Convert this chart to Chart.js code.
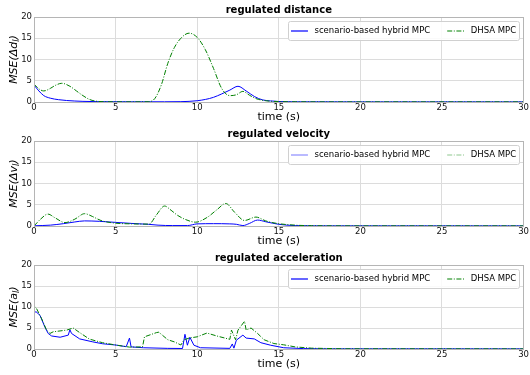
<!DOCTYPE html>
<html>
<head>
<meta charset="utf-8">
<script src="https://cdn.jsdelivr.net/npm/chart.js@4.4.1/dist/chart.umd.min.js"></script>
<style>
  body { margin: 0; background: #fff; }
  #wrap { position: relative; width: 530px; height: 375px; }
  #wrap canvas { position: absolute; left: 0; }
</style>
</head>
<body>
<div id="wrap">
  <canvas id="chart-dist" width="530" height="124" style="top:0px"></canvas>
  <canvas id="chart-vel" width="530" height="124" style="top:124px"></canvas>
  <canvas id="chart-acc" width="530" height="127" style="top:248px"></canvas>
</div>
<script>
// series labels
const seriesNames = ['scenario-based hybrid MPC', 'DHSA MPC'];
const xTicks = [0, 5, 10, 15, 20, 25, 30];
const yTicks = [0, 5, 10, 15, 20];

// regulated distance
const distHybridT = [0, 0.3, 0.6, 1, 1.5, 2, 3, 4, 6, 8, 9, 9.5, 10, 10.5, 11, 11.5, 12, 12.5, 13, 13.5, 14, 14.5, 15, 16, 20, 30];
const distHybrid  = [4.0, 2.6, 1.5, 0.9, 0.55, 0.35, 0.15, 0.08, 0.05, 0.05, 0.08, 0.15, 0.3, 0.6, 1.1, 1.9, 2.8, 3.7, 2.6, 1.3, 0.5, 0.25, 0.12, 0.05, 0.03, 0.03];
const distDhsaT = [0, 0.3, 0.6, 1, 1.3, 1.7, 2.2, 2.6, 3, 3.4, 3.8, 4.5, 6, 7, 7.4, 7.8, 8.2, 8.6, 9, 9.5, 10, 10.5, 11, 11.5, 12, 12.4, 12.8, 13.2, 13.6, 14.2, 15, 16, 20, 30];
const distDhsa  = [4.2, 3.1, 2.6, 3.2, 3.9, 4.4, 3.7, 2.6, 1.5, 0.6, 0.2, 0.06, 0.04, 0.06, 0.8, 4.0, 9.1, 12.8, 15.0, 16.2, 15.2, 12.3, 7.9, 3.2, 1.5, 1.7, 2.5, 1.6, 0.8, 0.3, 0.1, 0.05, 0.03, 0.03];

// regulated velocity
const velHybridT = [0, 1, 1.8, 2.5, 3.1, 4, 5, 6, 7, 7.6, 8.5, 9.4, 10, 11, 12, 12.4, 12.8, 13.2, 13.7, 14.2, 15, 16, 18, 30];
const velHybrid  = [0.05, 0.2, 0.55, 0.95, 1.2, 1.1, 0.85, 0.6, 0.4, 0.2, 0.1, 0.1, 0.5, 0.55, 0.5, 0.4, 0.1, 0.6, 1.4, 1.0, 0.4, 0.1, 0.04, 0.03];
const velDhsaT = [0, 0.4, 0.85, 1.3, 1.9, 2.5, 3.1, 3.6, 4.1, 4.9, 6, 7.05, 7.5, 8.0, 8.4, 8.8, 9.3, 9.9, 10.6, 11.2, 11.75, 12.3, 12.9, 13.6, 14.2, 14.9, 16, 17, 20, 30];
const velDhsa  = [0, 1.6, 2.8, 1.9, 0.8, 1.6, 2.9, 2.2, 1.3, 0.7, 0.5, 0.45, 2.6, 4.7, 3.7, 2.5, 1.5, 0.9, 2.0, 3.8, 5.3, 3.2, 1.3, 2.1, 1.2, 0.6, 0.2, 0.08, 0.03, 0.03];

// regulated acceleration
const accHybridT = [0, 0.02, 0.12, 0.37, 0.67, 0.87, 1.08, 1.6, 2.1, 2.2, 2.3, 2.8, 3.6, 4.2, 5.0, 5.65, 5.85, 5.95, 6.7, 8.2, 9.1, 9.25, 9.4, 9.55, 9.8, 10.2, 12.0, 12.15, 12.25, 12.4, 12.8, 13.0, 13.5, 13.9, 14.5, 15.3, 16.5, 18, 30];
const accHybrid  = [0, 8.6, 8.9, 8.0, 5.2, 3.7, 3.1, 2.8, 3.3, 4.6, 3.7, 2.4, 1.7, 1.25, 0.95, 0.55, 2.6, 0.5, 0.3, 0.15, 0.12, 3.5, 0.9, 2.8, 0.9, 0.3, 0.15, 1.2, 0.2, 2.1, 3.3, 2.6, 2.4, 1.5, 0.9, 0.3, 0.1, 0.04, 0.03];
const accDhsaT = [0, 0.02, 0.16, 0.47, 0.77, 0.98, 1.18, 2.0, 2.4, 2.8, 3.4, 4.2, 5.0, 5.85, 6.65, 6.77, 7.5, 7.65, 8.2, 8.6, 9.0, 9.2, 9.5, 10.0, 10.6, 11.2, 12.0, 12.1, 12.35, 12.5, 12.9, 13.0, 13.3, 13.7, 14.1, 14.7, 15.3, 16, 17, 19, 30];
const accDhsa  = [0, 10.2, 9.6, 7.2, 4.5, 3.7, 4.1, 4.5, 5.0, 3.9, 2.35, 1.5, 0.95, 0.45, 0.5, 2.9, 3.9, 4.0, 2.2, 1.7, 0.95, 2.2, 2.6, 2.9, 3.8, 3.1, 2.3, 4.5, 2.2, 4.5, 6.6, 4.5, 5.0, 3.7, 2.2, 1.3, 1.0, 0.5, 0.2, 0.05, 0.03];

const FONT = '"DejaVu Sans", sans-serif';

function toPoints(ts, ys) {
    return ts.map((t, i) => ({ x: t, y: ys[i] }));
}

// box around the plot area
const frameBox = {
    id: 'frameBox',
    afterDatasetsDraw(chart) {
        const { ctx, chartArea: a } = chart;
        ctx.save();
        ctx.strokeStyle = '#b5b5b5';
        ctx.lineWidth = 1;
        ctx.strokeRect(Math.round(a.left) + 0.5, Math.round(a.top) + 0.5,
            Math.round(a.right - a.left) - 1, Math.round(a.bottom - a.top));
        ctx.restore();
    }
};

// y label with a subscript: MSE(Δd_l)
const yLabelSub = {
    id: 'yLabelSub',
    afterDraw(chart, args, opts) {
        const { ctx, chartArea } = chart;
        const parts = [
            { text: opts.main, size: 11, dy: 0 },
            { text: opts.sub, size: 8, dy: 2.5 },
            { text: ')', size: 11, dy: 0 }
        ];
        ctx.save();
        let total = 0;
        parts.forEach(p => {
            ctx.font = 'italic ' + p.size + 'px ' + FONT;
            p.w = ctx.measureText(p.text).width;
            total += p.w;
        });
        ctx.translate(opts.x, (chartArea.top + chartArea.bottom) / 2);
        ctx.rotate(-Math.PI / 2);
        ctx.fillStyle = '#000';
        ctx.textBaseline = 'middle';
        let x = -total / 2;
        parts.forEach(p => {
            ctx.font = 'italic ' + p.size + 'px ' + FONT;
            ctx.fillText(p.text, x, p.dy);
            x += p.w;
        });
        ctx.restore();
    }
};

// matplotlib style legend inside the top right corner
const insideLegend = {
    id: 'insideLegend',
    afterDraw(chart) {
        const { ctx, chartArea } = chart;
        const sets = chart.data.datasets;
        ctx.save();
        ctx.font = '8.5px ' + FONT;
        const sample = 17, gapIn = 6.5, gapBetween = 17, padL = 2.5, padR = 3.5, h = 19;
        let w = padL + padR;
        sets.forEach((ds, i) => {
            w += sample + gapIn + ctx.measureText(ds.label).width + (i ? gapBetween : 0);
        });
        const x0 = chartArea.right - 4 - w;
        const y0 = chartArea.top + 4;
        ctx.fillStyle = 'rgba(255,255,255,0.85)';
        ctx.strokeStyle = '#d0d0d0';
        ctx.lineWidth = 1;
        ctx.beginPath();
        ctx.roundRect(Math.round(x0) + 0.5, Math.round(y0) + 0.5, Math.round(w), h, 2);
        ctx.fill();
        ctx.stroke();

        let x = x0 + padL;
        const cy = y0 + h / 2 + 0.5;
        sets.forEach((ds, i) => {
            if (i) x += gapBetween;
            ctx.strokeStyle = ds.legendColor || ds.borderColor;
            ctx.lineWidth = 1.2;
            ctx.setLineDash(ds.borderDash || []);
            ctx.beginPath();
            ctx.moveTo(x, cy);
            ctx.lineTo(x + sample, cy);
            ctx.stroke();
            ctx.setLineDash([]);
            x += sample + gapIn;
            ctx.fillStyle = '#000';
            ctx.textBaseline = 'middle';
            ctx.fillText(ds.label, x, cy);
            x += ctx.measureText(ds.label).width;
        });
        ctx.restore();
    }
};

function createChart(id, title, yMain, ySub, hybrid, dhsa, smooth, bottomPad, legendAlpha) {
    const curve = smooth ? { cubicInterpolationMode: 'monotone' } : { tension: 0 };
    new Chart(document.getElementById(id), {
        type: 'line',
        data: {
            datasets: [{
                label: seriesNames[0],
                data: hybrid,
                borderColor: '#0000ff',
                legendColor: legendAlpha ? 'rgba(0,0,255,0.45)' : '#0000ff',
                borderWidth: 1,
                pointRadius: 0,
                order: 2,
                ...curve
            }, {
                label: seriesNames[1],
                data: dhsa,
                borderColor: '#008000',
                legendColor: legendAlpha ? 'rgba(0,128,0,0.45)' : '#008000',
                borderWidth: 1,
                borderDash: [5, 1.6, 1, 1.6],
                pointRadius: 0,
                order: 1,
                ...curve
            }]
        },
        options: {
            responsive: false,
            animation: false,
            layout: { padding: { left: 0, right: 5, top: 0, bottom: bottomPad } },
            plugins: {
                legend: { display: false },
                tooltip: { enabled: false },
                yLabelSub: { main: yMain, sub: ySub, x: 14 },
                title: {
                    display: true,
                    text: title,
                    fullSize: false,
                    color: '#000',
                    font: { family: FONT, size: 10, weight: 'bold' },
                    padding: { top: 4, bottom: 1 }
                }
            },
            scales: {
                x: {
                    type: 'linear',
                    min: 0,
                    max: 30,
                    afterBuildTicks: axis => { axis.ticks = xTicks.map(v => ({ value: v })); },
                    afterFit: axis => { axis.height = 22; },
                    ticks: { color: '#111', font: { family: FONT, size: 8.5 }, padding: 1, maxRotation: 0 },
                    grid: { color: '#dcdcdc', drawTicks: false },
                    border: { display: false },
                    title: {
                        display: true,
                        text: 'time (s)',
                        color: '#000',
                        font: { family: FONT, size: 11 },
                        padding: { top: 0, bottom: 0 }
                    }
                },
                y: {
                    min: 0,
                    max: 20,
                    afterBuildTicks: axis => { axis.ticks = yTicks.map(v => ({ value: v })); },
                    afterFit: axis => { axis.width = 34; },
                    ticks: { color: '#111', font: { family: FONT, size: 8.5 }, padding: 2 },
                    grid: { color: '#dcdcdc', drawTicks: false },
                    border: { display: false },
                    title: { display: false }
                }
            }
        },
        plugins: [frameBox, insideLegend, yLabelSub]
    });
}

createChart('chart-dist', 'regulated distance', 'MSE(Δd', 'l',
    toPoints(distHybridT, distHybrid), toPoints(distDhsaT, distDhsa), true, 0, false);
createChart('chart-vel', 'regulated velocity', 'MSE(Δv', 'l',
    toPoints(velHybridT, velHybrid), toPoints(velDhsaT, velDhsa), true, 0, true);
createChart('chart-acc', 'regulated acceleration', 'MSE(a', 'l',
    toPoints(accHybridT, accHybrid), toPoints(accDhsaT, accDhsa), false, 4, false);
</script>
</body>
</html>
